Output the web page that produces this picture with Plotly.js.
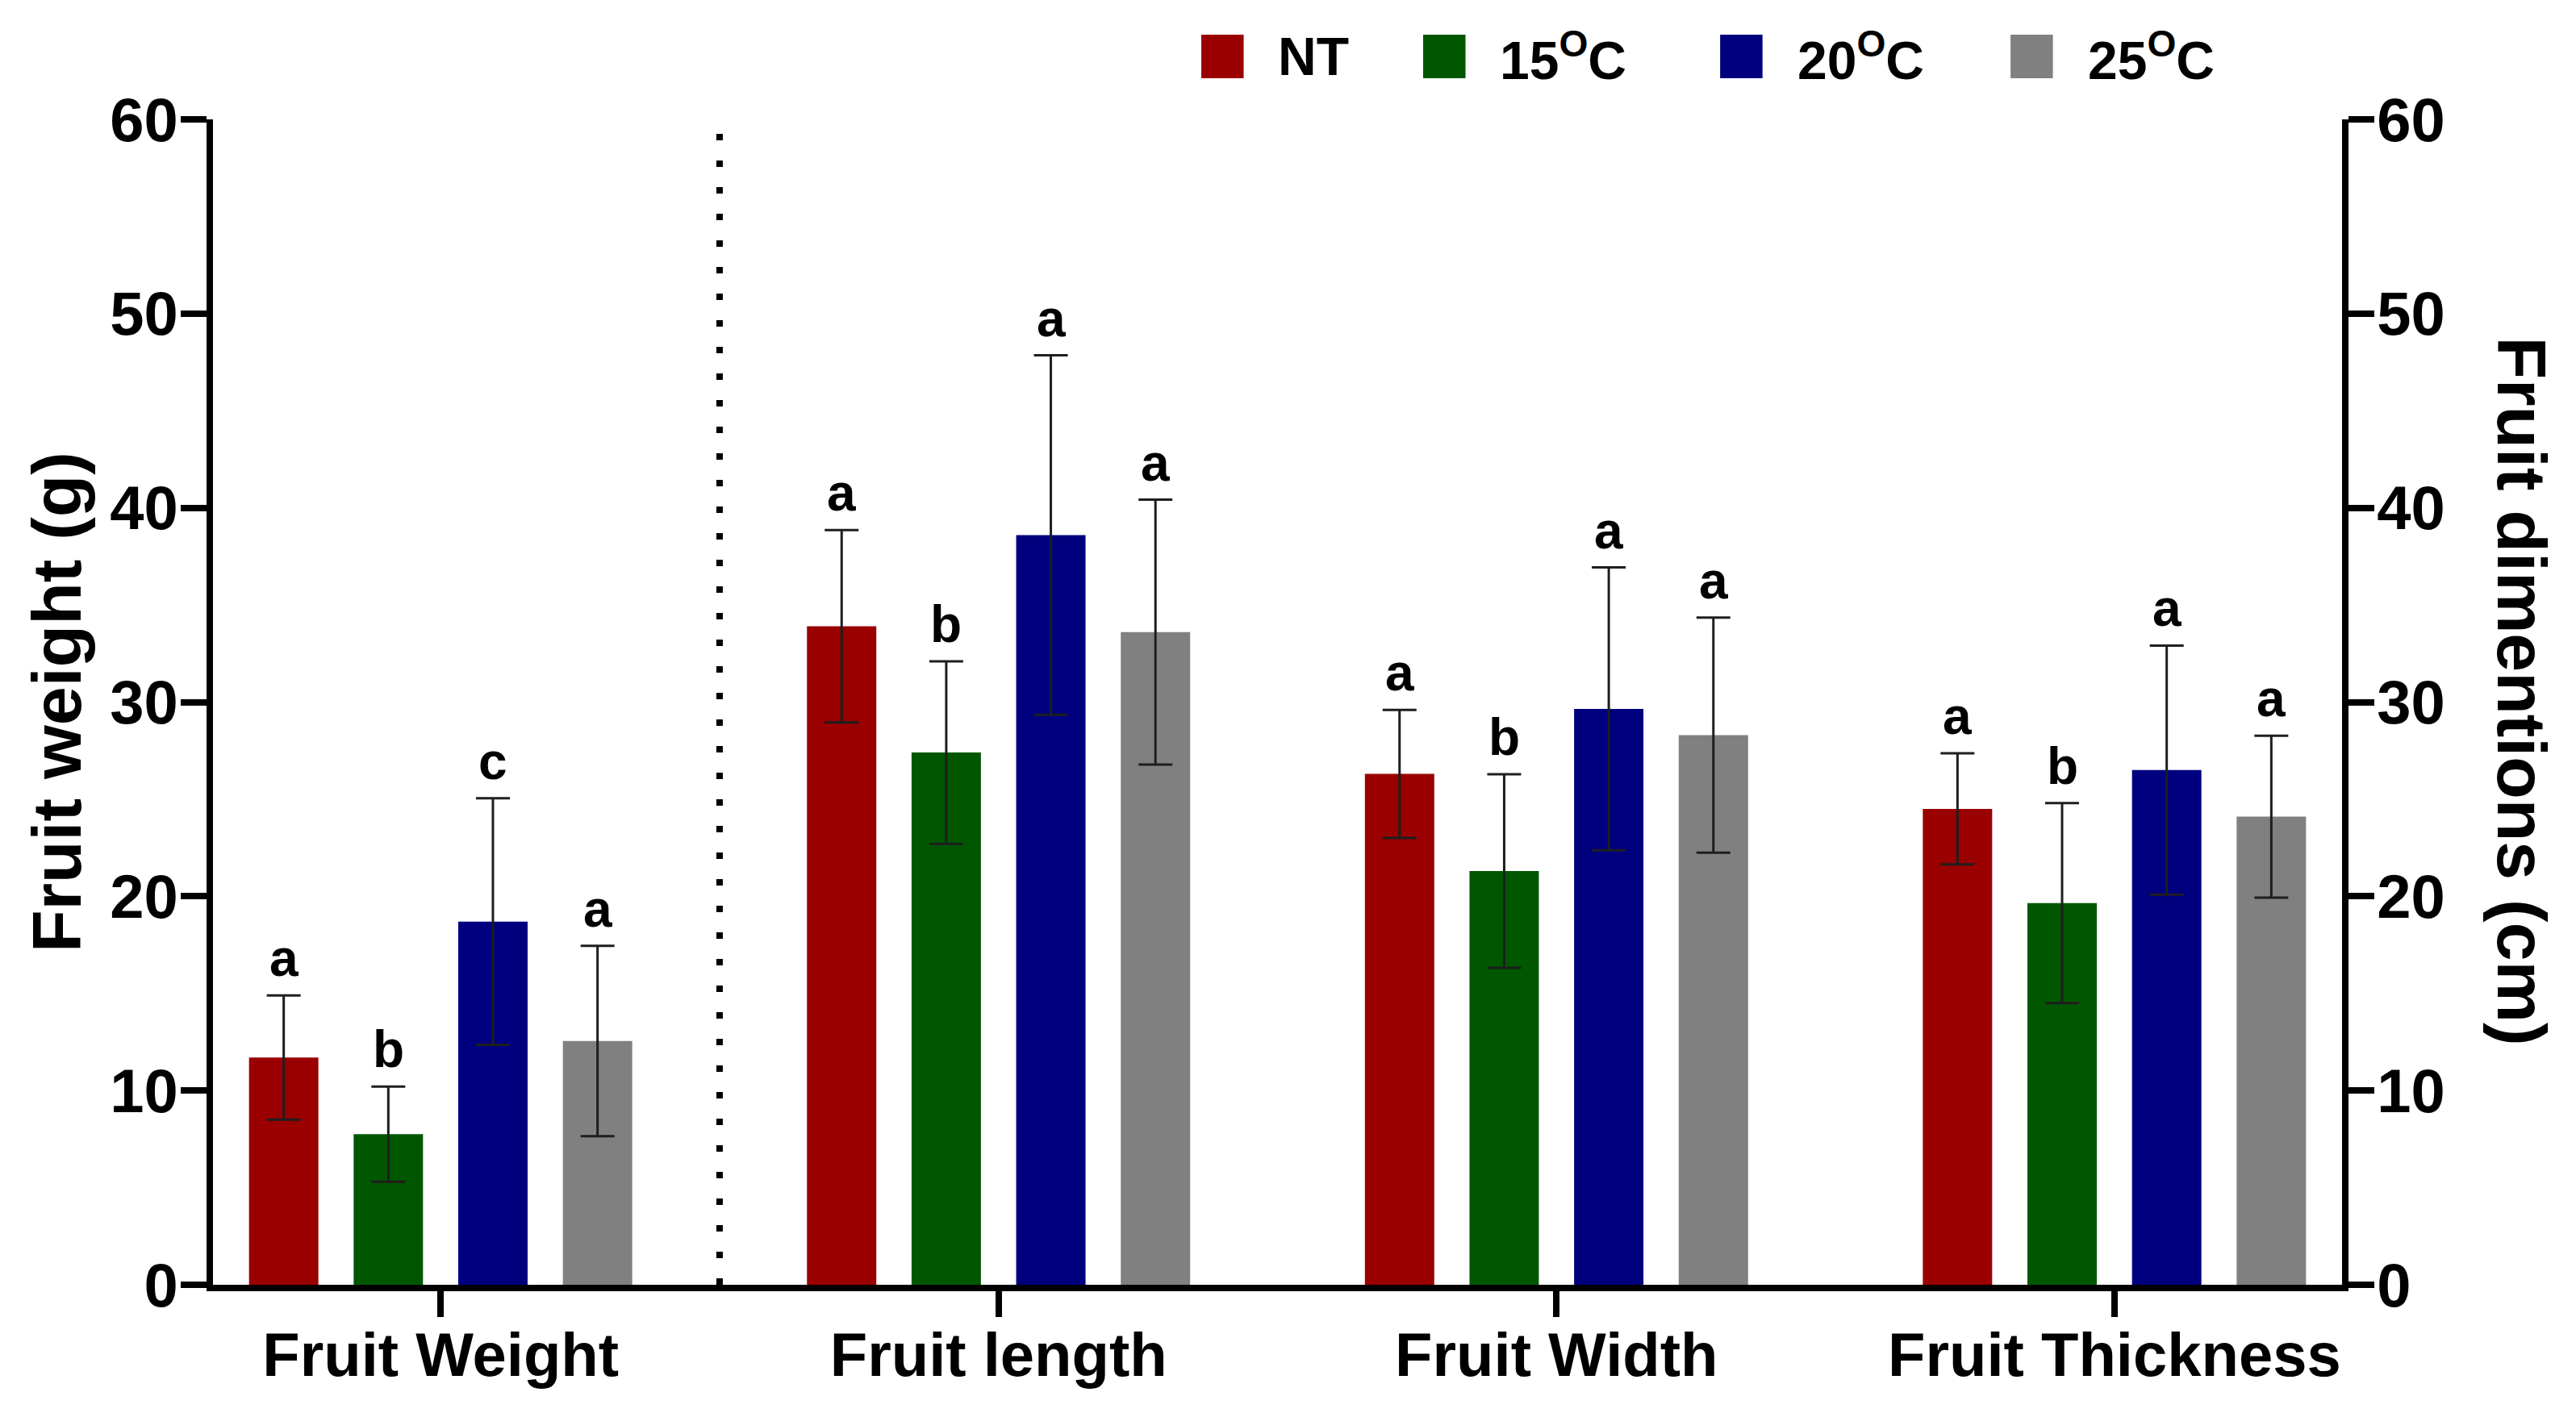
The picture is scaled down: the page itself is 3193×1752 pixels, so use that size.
<!DOCTYPE html>
<html>
<head>
<meta charset="utf-8">
<script src="https://cdn.plot.ly/plotly-3.0.1.min.js"></script>
<style>
  html, body { margin: 0; padding: 0; background: #fff; }
</style>
</head>
<body>
<div id="myDiv" style="width:3193px;height:1752px;"></div>
<script>
// categories and series
let categories = ['Fruit Weight', 'Fruit length', 'Fruit Width', 'Fruit Thickness'];
let seriesNames = ['NT', '15<sup>O</sup>C', '20<sup>O</sup>C', '25<sup>O</sup>C'];
let seriesColors = ['#9a0000', '#005700', '#00007f', '#808080'];

// means and SD
let ntMean = [11.7, 33.9, 26.3, 24.5];
let ntSd = [3.2, 4.95, 3.3, 2.86];
let t15Mean = [7.75, 27.4, 21.3, 19.65];
let t15Sd = [2.45, 4.7, 4.98, 5.15];
let t20Mean = [18.7, 38.6, 29.65, 26.5];
let t20Sd = [6.35, 9.25, 7.28, 6.41];
let t25Mean = [12.55, 33.6, 28.3, 24.1];
let t25Sd = [4.9, 6.82, 6.05, 4.17];

// significance letters
let ntLetters = ['a', 'a', 'a', 'a'];
let t15Letters = ['b', 'b', 'b', 'b'];
let t20Letters = ['c', 'a', 'a', 'a'];
let t25Letters = ['a', 'a', 'a', 'a'];

let means = [ntMean, t15Mean, t20Mean, t25Mean];
let sds = [ntSd, t15Sd, t20Sd, t25Sd];
let letters = [ntLetters, t15Letters, t20Letters, t25Letters];

let fontFamily = 'Liberation Sans, Arial, Helvetica, sans-serif';
let bargap = 0.25;

let data = [];
for (let j = 0; j < means.length; j++) {
  data.push({
    x: categories,
    y: means[j],
    type: 'bar',
    name: seriesNames[j],
    marker: { color: seriesColors[j], line: { width: 0 } },
    error_y: {
      type: 'data',
      array: sds[j],
      visible: true,
      color: '#1e1e1e',
      thickness: 3,
      width: 21
    },
    showlegend: false,
    hoverinfo: 'skip'
  });
}

// empty trace so the right-hand axis gets drawn
data.push({
  x: categories,
  y: ntMean,
  yaxis: 'y2',
  type: 'scatter',
  mode: 'none',
  showlegend: false,
  hoverinfo: 'skip'
});

// letters above error bars
let slot = (1 - bargap) / means.length;
let annotations = [];
for (let j = 0; j < means.length; j++) {
  for (let i = 0; i < categories.length; i++) {
    annotations.push({
      x: i + (j - (means.length - 1) / 2) * slot,
      y: means[j][i] + sds[j][i],
      xref: 'x', yref: 'y',
      text: letters[j][i],
      showarrow: false,
      yanchor: 'bottom',
      yshift: 8,
      font: { family: fontFamily, size: 64, color: '#000', weight: 'bold' }
    });
  }
}

// legend drawn as squares + labels along the top
let legendSquareX = [0.4642, 0.5684, 0.7079, 0.8443];
let legendSquareW = 0.0199;
let shapes = [];
for (let j = 0; j < seriesNames.length; j++) {
  shapes.push({
    type: 'rect', xref: 'paper', yref: 'paper',
    x0: legendSquareX[j], x1: legendSquareX[j] + legendSquareW,
    y0: 1.0353, y1: 1.0727,
    fillcolor: seriesColors[j], line: { width: 0 }
  });
  annotations.push({
    x: legendSquareX[j] + legendSquareW + 0.0155, y: 1.054,
    xref: 'paper', yref: 'paper',
    text: seriesNames[j], showarrow: false,
    xanchor: 'left', yanchor: 'middle',
    font: { family: fontFamily, size: 66, color: '#000', weight: 'bold' }
  });
}

// dotted separator between weight and dimensions
shapes.push({
  type: 'line', xref: 'x', yref: 'paper',
  x0: 0.5, x1: 0.5, y0: 0, y1: 1,
  line: { color: '#000', width: 8, dash: '8px,25px' }
});

// right axis title, reading top to bottom
annotations.push({
  x: 1.0845, y: 0.509, xref: 'paper', yref: 'paper',
  text: 'Fruit dimentions (cm)', showarrow: false, textangle: 90,
  xanchor: 'center', yanchor: 'middle',
  font: { family: fontFamily, size: 86, color: '#000', weight: 'bold' }
});

let tickFont = { family: fontFamily, size: 76, color: '#000', weight: 'bold' };

let layout = {
  width: 3193,
  height: 1752,
  margin: { l: 264, r: 290, t: 148, b: 159 },
  paper_bgcolor: '#fff',
  plot_bgcolor: '#fff',
  barmode: 'group',
  bargap: bargap,
  bargroupgap: 0.337,
  showlegend: false,
  font: { family: fontFamily, color: '#000' },
  xaxis: {
    type: 'category',
    range: [-0.408, 3.408],
    showline: true, linewidth: 8, linecolor: '#000',
    ticks: 'outside', ticklen: 32, tickwidth: 8, tickcolor: '#000',
    ticklabelstandoff: -18,
    tickfont: tickFont,
    showgrid: false, zeroline: false
  },
  yaxis: {
    range: [0, 60], dtick: 10,
    showline: true, linewidth: 8, linecolor: '#000',
    ticks: 'outside', ticklen: 32, tickwidth: 8, tickcolor: '#000',
    ticklabelstandoff: -12,
    tickfont: tickFont,
    showgrid: false, zeroline: false,
    title: {
      text: 'Fruit weight (g)',
      standoff: 10,
      font: { family: fontFamily, size: 86, color: '#000', weight: 'bold' }
    }
  },
  yaxis2: {
    overlaying: 'y', side: 'right', anchor: 'x',
    range: [0, 60], dtick: 10,
    showline: true, linewidth: 8, linecolor: '#000',
    ticks: 'outside', ticklen: 32, tickwidth: 8, tickcolor: '#000',
    ticklabelstandoff: -12,
    tickfont: tickFont,
    showgrid: false, zeroline: false
  },
  shapes: shapes,
  annotations: annotations
};

Plotly.newPlot('myDiv', data, layout, { staticPlot: true });
</script>
</body>
</html>
